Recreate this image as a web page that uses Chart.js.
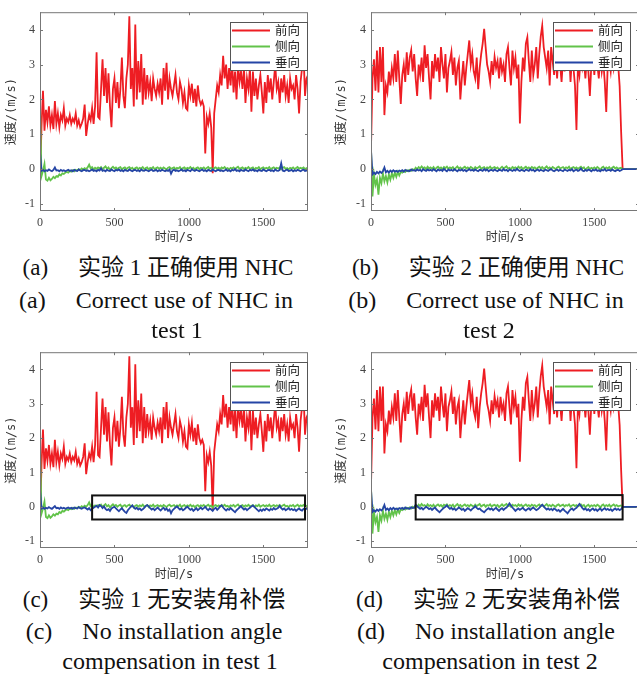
<!DOCTYPE html>
<html>
<head>
<meta charset="utf-8">
<script src="https://cdn.jsdelivr.net/npm/chart.js@4.4.1/dist/chart.umd.min.js"></script>
<style>
  html, body { margin: 0; padding: 0; background: #fff; overflow: hidden; }
  body { width: 637px; height: 675px; position: relative; }
  canvas { position: absolute; }
  .cap { position: absolute; white-space: pre; font-family: 'Liberation Serif', 'Noto Sans CJK SC', serif;
         font-size: 24px; line-height: 24px; color: #111; transform: translateX(-50%); }
  .cap.zh { font-size: 23px; }
  .cap b { font-weight: normal; margin-right: 30px; }
</style>
</head>
<body>
<canvas id="ca" width="318" height="248" style="left:0;top:0"></canvas>
<canvas id="cb" width="310" height="248" style="left:330px;top:0"></canvas>
<canvas id="cc" width="318" height="245" style="left:0;top:340px"></canvas>
<canvas id="cd" width="310" height="245" style="left:330px;top:340px"></canvas>

<div class="cap zh" style="left:158px;top:256px"><b>(a)</b>实验 1 正确使用 NHC</div>
<div class="cap" style="left:156px;top:288px"><b>(a)</b>Correct use of NHC in</div>
<div class="cap" style="left:177px;top:318px">test 1</div>
<div class="cap zh" style="left:488px;top:256px"><b>(b)</b>实验 2 正确使用 NHC</div>
<div class="cap" style="left:486px;top:288px"><b>(b)</b>Correct use of NHC in</div>
<div class="cap" style="left:489px;top:318px">test 2</div>
<div class="cap zh" style="left:154px;top:588px"><b>(c)</b>实验 1 无安装角补偿</div>
<div class="cap" style="left:154px;top:619px"><b>(c)</b>No installation angle</div>
<div class="cap" style="left:170px;top:649px">compensation in test 1</div>
<div class="cap zh" style="left:488px;top:588px"><b>(d)</b>实验 2 无安装角补偿</div>
<div class="cap" style="left:486px;top:619px"><b>(d)</b>No installation angle</div>
<div class="cap" style="left:490px;top:649px">compensation in test 2</div>

<script>
// samples every 10 s, 0 .. 1800 s
const sampleStep = 10;
const xTickVals = [0, 500, 1000, 1500];
const yTickVals = [-1, 0, 1, 2, 3, 4];
const seriesNames = ['前向', '侧向', '垂向'];

// test 1, forward speed
const fwd1 = [
  -0.4, 1.2, 2.25, 1.1, 1.7, 1.35, 1.8, 1.25, 1.55, 1.15,
  1.95, 1.3, 1.6, 1.2, 1.55, 1.4, 1.75, 1.25, 1.45, 1.35,
  1.55, 1.3, 1.45, 1.35, 1.6, 1.25, 1.4, 1.2, 1.3, 1.45,
  1.85, 0.95, 1.3, 1.55, 1.4, 1.75, 1.3, 1.8, 3.35, 1.5,
  1.45, 2.3, 3.15, 2.1, 2.9, 1.9, 2.75, 1.8, 1.2, 2.3,
  2.6, 1.9, 2.5, 1.75, 2.3, 3.2, 2.1, 1.75, 2.6, 3.0,
  4.38, 2.3, 2.9, 1.8, 4.15, 2.0, 3.1, 2.2, 3.3, 1.85,
  2.9, 2.0, 2.7, 2.2, 2.5, 1.95, 2.6, 2.3, 2.1, 2.45,
  2.2, 2.6, 1.85, 2.9, 2.25, 3.05, 2.0, 2.6, 2.3, 2.1,
  2.4, 2.7, 2.2, 2.0, 2.5, 2.3, 1.9, 2.2, 1.75, 1.7,
  2.4, 2.1, 2.45, 1.9, 2.3, 1.8, 2.4, 2.0, 1.85, 1.95,
  1.8, 0.45, 1.5, 1.3, 1.6, 1.2, -0.12, 1.6, 2.0, 2.4,
  2.2, 2.7, 2.4, 3.25, 2.6, 3.0, 2.3, 2.9, 2.4, 3.1,
  2.2, 2.8, 2.0, 3.0, 2.5, 2.8, 2.3, 2.9, 1.9, 2.6,
  2.3, 2.9, 1.65, 2.8, 2.1, 2.6, 2.0, 2.4, 2.7, 2.2,
  1.6, 2.5, 1.9, 2.7, 2.2, 2.6, 2.0, 2.5, 3.0, 2.3,
  2.5, 1.9, 2.6, 2.2, 2.7, 2.1, 2.4, 1.9, 2.6, 2.3,
  2.4, 2.0, 2.7, 2.3, 1.6, 2.5, 2.9, 3.3, 2.1, 2.6, 2.7
];
// test 1, lateral speed
const side1 = [
  1.9, -0.2, -0.05, 0.15, -0.3, -0.33, -0.25, -0.32, -0.28, -0.22,
  -0.26, -0.2, -0.22, -0.15, -0.18, -0.12, -0.14, -0.1, -0.08, -0.1,
  -0.05, -0.07, -0.03, -0.06, -0.02, -0.04, 0.0, -0.03, 0.02, -0.01,
  0.03, 0.0, 0.05, 0.13, 0.02, 0.06, -0.01, 0.04, 0.01, 0.05,
  0.02, 0.06, 0.0, 0.04, 0.08, 0.01, 0.05, -0.02, 0.03, 0.07,
  0.02, 0.05, 0.0, 0.04, 0.06, -0.01, 0.03, 0.05, 0.0, 0.04,
  0.06, 0.01, 0.04, -0.02, 0.03, 0.05, 0.0, 0.04, 0.02, 0.06,
  0.0, 0.03, 0.05, -0.01, 0.04, 0.02, 0.06, 0.0, 0.03, 0.05,
  0.01, 0.04, 0.0, 0.05, 0.02, -0.01, 0.04, 0.06, 0.01, 0.03,
  0.05, 0.0, 0.04, 0.02, 0.06, -0.01, 0.03, 0.05, 0.0, 0.04,
  0.02, 0.06, 0.01, 0.04, -0.01, 0.03, 0.05, 0.0, 0.04, 0.02,
  0.05, 0.0, 0.03, 0.06, 0.01, 0.04, -0.02, 0.03, 0.05, 0.01,
  0.04, 0.0, 0.05, 0.02, 0.06, 0.01, 0.03, -0.01, 0.04, 0.02,
  0.05, 0.0, 0.04, 0.07, 0.01, 0.03, 0.05, 0.0, 0.04, 0.02,
  0.06, 0.01, 0.03, 0.05, -0.01, 0.04, 0.02, 0.06, 0.0, 0.03,
  0.05, 0.01, 0.04, 0.02, 0.06, 0.0, 0.03, 0.05, 0.01, 0.04,
  0.02, 0.05, 0.0, 0.04, 0.06, 0.01, 0.03, -0.01, 0.04, 0.02,
  0.05, 0.0, 0.03, 0.06, 0.01, 0.04, 0.02, 0.05, 0.0, 0.03, 0.04
];
// test 1, vertical speed with NHC
const vert1a = [
  0.5, -0.05, -0.02, -0.06, -0.03, -0.05, -0.01, -0.04, -0.06, -0.02,
  0.05, -0.04, -0.03, -0.06, -0.02, -0.05, -0.03, -0.06, -0.04, -0.02,
  -0.05, -0.03, -0.06, -0.02, -0.04, -0.05, -0.01, -0.04, -0.06, -0.03,
  -0.02, -0.05, -0.03, -0.06, -0.04, -0.01, -0.05, -0.03, -0.06, -0.02,
  -0.04, 0.02, -0.05, -0.03, -0.06, -0.02, -0.04, -0.05, -0.01, -0.04,
  -0.06, -0.02, -0.04, -0.01, -0.05, -0.03, -0.06, -0.02, -0.04, -0.05,
  -0.01, -0.04, -0.06, -0.03, -0.02, -0.05, -0.03, -0.06, -0.01, -0.04,
  -0.05, -0.02, -0.04, -0.06, -0.03, -0.01, -0.05, -0.04, -0.02, -0.06,
  -0.03, -0.05, -0.02, -0.04, -0.06, -0.03, -0.05, -0.01, -0.13, -0.04,
  -0.02, -0.05, -0.03, -0.06, -0.04, -0.01, -0.05, -0.03, -0.06, -0.02,
  -0.04, -0.06, 0.0, -0.03, -0.05, -0.02, -0.04, -0.06, -0.03, -0.01,
  -0.05, -0.03, -0.06, -0.02, -0.04, -0.05, -0.01, -0.04, -0.06, -0.03,
  -0.02, -0.05, -0.03, -0.06, -0.04, -0.01, -0.05, -0.03, -0.06, -0.02,
  -0.04, 0.0, -0.05, -0.03, -0.06, -0.02, -0.04, -0.05, -0.01, -0.04,
  -0.06, -0.02, -0.04, -0.01, -0.05, -0.03, -0.06, -0.02, -0.04, -0.05,
  -0.01, -0.04, -0.06, -0.03, -0.02, -0.05, -0.03, -0.06, -0.01, -0.04,
  -0.05, -0.02, 0.17, -0.04, -0.06, -0.03, -0.01, -0.05, -0.04, -0.02,
  -0.06, -0.03, -0.05, -0.02, -0.04, -0.06, -0.03, -0.01, -0.05, -0.04, -0.03
];
// test 1, vertical speed without installation angle compensation
const vert1c = [
  0.5, -0.05, -0.02, -0.06, -0.03, -0.05, -0.01, -0.04, -0.06, -0.02,
  0.02, -0.04, -0.03, -0.06, -0.02, -0.05, -0.03, -0.06, -0.04, -0.02,
  -0.05, -0.03, -0.06, -0.02, -0.04, -0.05, -0.01, -0.04, -0.06, -0.03,
  -0.02, -0.05, -0.08, -0.04, -0.1, -0.06, -0.03, 0.0, 0.03, -0.02,
  0.05, 0.02, -0.04, 0.01, -0.06, -0.1, -0.07, -0.12, -0.05, -0.02,
  0.0, -0.05, -0.09, -0.13, -0.08, -0.04, -0.1, -0.15, -0.18, -0.1,
  -0.05, 0.0, 0.04, -0.02, -0.06, -0.03, -0.08, -0.05, -0.1, -0.07,
  -0.03, 0.02, 0.05, 0.01, -0.04, -0.08, -0.05, -0.1, -0.06, -0.02,
  -0.07, -0.11, -0.06, -0.03, -0.09, -0.05, -0.12, -0.08, -0.19, -0.1,
  -0.06, -0.02, 0.01, -0.04, -0.08, -0.05, -0.1, -0.07, -0.03, 0.0,
  -0.05, -0.09, -0.06, -0.12, -0.08, -0.04, -0.1, -0.06, -0.02, -0.07,
  -0.04, 0.0, -0.06, -0.1, -0.05, -0.08, -0.12, -0.06, -0.03, -0.09,
  -0.05, 0.02, 0.04, -0.02, -0.07, -0.11, -0.06, -0.09, -0.04, -0.08,
  -0.12, -0.16, -0.1, -0.06, -0.02, 0.02, -0.04, -0.08, -0.05, -0.1,
  -0.06, -0.03, 0.01, 0.04, 0.0, -0.05, -0.09, -0.13, -0.08, -0.12,
  -0.07, -0.1, -0.05, -0.08, -0.11, -0.06, -0.09, -0.04, -0.08, -0.06,
  -0.03, 0.03, -0.04, -0.08, -0.05, -0.1, -0.07, -0.04, -0.09, -0.06,
  -0.1, -0.07, -0.12, -0.08, -0.05, -0.09, -0.11, -0.06, -0.08, -0.05, -0.07
];

// test 2, forward speed
const fwd2 = [
  0.6, 2.6, 3.15, 2.25, 3.4, 2.2, 3.5, 2.5, 3.5, 1.55,
  2.4, 2.2, 2.8, 2.4, 2.9, 2.6, 3.3, 2.5, 3.4, 2.6,
  1.87, 2.7, 3.0, 2.5, 3.35, 2.7, 3.2, 3.41, 2.8, 3.3,
  2.6, 2.1, 3.0, 2.7, 3.2, 2.5, 3.55, 2.9, 3.3, 2.6,
  2.0, 3.1, 2.6, 3.3, 2.8, 3.2, 2.5, 3.5, 3.0, 2.6,
  3.3, 2.2, 2.9, 3.1, 3.36, 2.7, 3.2, 2.4, 2.9, 3.1,
  2.0, 2.6, 3.1, 2.4, 2.9, 3.3, 3.69, 3.0, 3.3, 2.8,
  2.6, 3.2, 2.29, 2.9, 3.3, 3.6, 4.02, 3.5, 3.0, 2.8,
  2.5, 3.1, 2.7, 3.22, 2.9, 3.1, 2.6, 3.2, 2.8, 3.0,
  2.5, 3.3, 3.5, 2.9, 2.4, 3.4, 2.9, 3.2, 2.6, 3.0,
  1.31, 2.5, 3.2, 2.8, 3.6, 3.78, 3.1, 2.5, 3.4, 2.7,
  3.0, 3.5, 2.6, 3.3, 3.8, 4.11, 3.5, 3.2, 2.9, 3.4,
  2.4, 3.5, 3.1, 2.7, 3.3, 2.6, 3.4, 3.0, 2.5, 3.2,
  2.8, 3.3, 2.9, 3.4, 2.5, 3.2, 2.9, 2.4, 1.12, 3.0,
  2.7, 3.3, 2.9, 3.1, 2.6, 3.2, 2.8, 2.1, 3.0, 3.3,
  2.7, 3.4, 3.0, 2.6, 3.3, 2.8, 3.1, 2.5, 1.64, 3.0,
  3.1, 2.8, 3.3, 2.9, 3.2, 3.4, 3.0, 2.38, 1.07, 0,
  0, 0, 0, 0, 0, 0, 0, 0, 0, 0, -0.05
];
// test 2, lateral speed
const side2 = [
  0.6, -0.78, -0.15, -0.45, -0.3, -0.73, -0.25, -0.4, -0.12, -0.35,
  -0.2, -0.38, -0.15, -0.3, -0.12, -0.25, -0.1, -0.22, -0.08, -0.18,
  -0.08, -0.1, -0.05, -0.08, -0.03, -0.06, -0.02, -0.05, 0.0, -0.03,
  0.04, 0.0, 0.06, 0.02, 0.08, 0.03, 0.05, 0.0, 0.07, 0.02,
  0.05, 0.01, 0.06, -0.01, 0.04, 0.07, 0.02, 0.05, 0.0, 0.06,
  0.03, 0.07, 0.01, 0.05, 0.02, 0.06, -0.01, 0.04, 0.08, 0.02,
  0.05, 0.0, 0.04, 0.07, 0.02, 0.05, 0.01, 0.06, 0.03, 0.0,
  0.06, 0.02, 0.05, 0.08, 0.01, 0.04, 0.06, 0.0, 0.05, 0.03,
  0.07, 0.01, 0.04, 0.06, 0.02, 0.05, -0.01, 0.03, 0.07, 0.02,
  0.05, 0.08, 0.02, 0.04, 0.0, 0.06, 0.03, 0.05, 0.01, 0.07,
  0.03, 0.06, 0.0, 0.04, 0.07, 0.02, 0.05, 0.01, 0.06, 0.03,
  0.05, 0.0, 0.04, 0.07, 0.02, 0.06, 0.01, 0.04, 0.08, 0.02,
  0.05, 0.01, 0.06, 0.03, 0.0, 0.05, 0.07, 0.02, 0.04, 0.06,
  0.01, 0.05, 0.03, 0.07, 0.0, 0.04, 0.06, 0.02, 0.05, 0.01,
  0.04, 0.07, 0.02, 0.05, -0.02, 0.03, 0.06, 0.0, 0.04, 0.02,
  0.05, 0.01, 0.06, 0.03, -0.03, 0.04, 0.07, 0.01, 0.05, 0.02,
  0.06, 0.0, 0.04, 0.07, 0.02, 0.05, 0.01, 0.03, 0.04, 0.0,
  0, 0, 0, 0, 0, 0, 0, 0, 0, 0, 0
];
// test 2, vertical speed with NHC
const vert2b = [
  0.55, -0.15, -0.1, -0.14, -0.08, -0.12, -0.07, -0.11, -0.06, 0.05,
  -0.09, -0.05, -0.1, -0.04, -0.08, -0.03, -0.07, -0.05, -0.08, -0.04,
  -0.06, -0.03, -0.07, -0.02, -0.05, -0.04, -0.06, -0.01, -0.04, -0.03,
  -0.05, -0.01, -0.04, -0.02, -0.06, 0.0, -0.03, -0.05, -0.01, -0.04,
  -0.02, -0.05, 0.0, -0.03, -0.06, -0.01, -0.04, -0.02, -0.05, 0.01,
  -0.03, -0.06, -0.01, -0.04, -0.02, -0.05, 0.0, -0.03, -0.06, -0.02,
  -0.04, -0.01, -0.05, -0.02, -0.06, -0.03, 0.0, -0.04, -0.02, -0.05,
  -0.01, -0.04, -0.06, -0.02, -0.03, -0.05, 0.0, -0.04, -0.01, -0.06,
  -0.03, -0.02, -0.05, -0.01, -0.04, -0.06, -0.02, -0.03, -0.05, 0.0,
  -0.04, -0.02, -0.06, -0.01, -0.03, -0.05, -0.02, -0.04, 0.01, -0.03,
  -0.05, -0.02, -0.04, -0.06, -0.01, -0.03, -0.05, 0.0, -0.04, -0.02,
  -0.06, -0.03, -0.01, -0.05, -0.02, -0.04, -0.06, -0.01, -0.03, -0.05,
  -0.02, 0.0, -0.04, -0.06, -0.03, -0.01, -0.05, -0.02, -0.04, -0.06,
  -0.01, -0.03, -0.05, -0.02, -0.04, 0.0, -0.06, -0.03, -0.01, -0.05,
  -0.03, 0.02, -0.04, -0.06, -0.02, -0.05, -0.01, -0.03, -0.06, -0.02,
  -0.04, -0.01, -0.05, -0.03, -0.06, -0.02, -0.04, 0.0, -0.05, -0.03,
  -0.02, -0.05, -0.01, -0.04, -0.06, -0.03, -0.02, -0.05, -0.03, 0.0,
  0, 0, 0, 0, 0, 0, 0, 0, 0, 0, 0
];
// test 2, vertical speed without installation angle compensation
const vert2d = [
  0.5, -0.15, -0.1, -0.14, -0.08, -0.12, -0.07, -0.11, -0.06, 0.05,
  -0.09, -0.05, -0.1, -0.04, -0.08, -0.03, -0.07, -0.05, -0.08, -0.04,
  -0.06, -0.03, -0.07, -0.02, -0.05, -0.04, -0.06, -0.01, -0.04, -0.03,
  0.06, 0.02, -0.02, -0.06, -0.03, -0.08, -0.04, 0.0, -0.03, -0.07,
  -0.04, -0.09, -0.05, -0.02, -0.08, -0.12, -0.16, -0.11, -0.07, -0.03,
  0.0, 0.04, -0.02, -0.06, -0.03, -0.08, -0.05, -0.1, -0.06, -0.02,
  -0.05, -0.09, -0.06, -0.12, -0.08, -0.04, -0.07, -0.11, -0.06, -0.03,
  0.02, -0.03, -0.07, -0.05, -0.1, -0.13, -0.16, -0.11, -0.07, -0.04,
  -0.08, -0.05, -0.1, -0.06, -0.03, -0.08, -0.12, -0.07, -0.04, -0.09,
  -0.05, -0.02, 0.03, 0.1, 0.04, -0.02, -0.07, -0.12, -0.08, -0.05,
  -0.09, -0.06, -0.03, -0.08, -0.11, -0.07, -0.04, -0.09, -0.05, -0.02,
  -0.06, -0.1, -0.07, -0.03, 0.02, 0.06, 0.01, -0.04, -0.08, -0.05,
  -0.09, -0.06, -0.1, -0.05, -0.08, -0.12, -0.09, -0.14, -0.1, -0.06,
  -0.11, -0.15, -0.19, -0.13, -0.08, -0.05, -0.1, -0.06, -0.03, 0.03,
  0.08, 0.02, -0.04, -0.08, -0.05, -0.1, -0.07, -0.12, -0.08, -0.05,
  -0.1, -0.07, -0.12, -0.08, -0.05, -0.11, -0.07, -0.04, -0.09, -0.06,
  -0.1, -0.07, -0.12, -0.08, -0.05, -0.09, -0.06, -0.1, -0.07, 0.0,
  0, 0, 0, 0, 0, 0, 0, 0, 0, 0, 0
];

// highlighted regions [x0, x1, y0, y1]
const boxC = [350, 1780, -0.37, 0.33];
const boxD = [300, 1690, -0.37, 0.34];

const colors = ['#ee1d23', '#62c34a', '#2545a5'];
const tickFont = { family: "'Liberation Serif', serif", size: 12 };
const titleFont = { family: "'DejaVu Sans Mono', 'Noto Sans CJK SC', monospace", size: 12 };

const framePlugin = {
  id: 'frame',
  afterDatasetsDraw(chart, args, o) {
    const { ctx, chartArea: a, scales: { x, y } } = chart;
    ctx.save();
    if (o.box) {
      const [x0, x1, y0, y1] = o.box;
      ctx.strokeStyle = '#111';
      ctx.lineWidth = 2;
      const l = x.getPixelForValue(x0), r = x.getPixelForValue(x1);
      const t = y.getPixelForValue(y1), b = y.getPixelForValue(y0);
      ctx.strokeRect(l, t, r - l, b - t);
    }
    ctx.strokeStyle = '#777';
    ctx.lineWidth = 1;
    ctx.strokeRect(a.left + 0.5, a.top + 0.5, a.width - 1, a.height - 1);
    ctx.beginPath();
    xTickVals.forEach(v => {
      const p = Math.round(x.getPixelForValue(v)) + 0.5;
      ctx.moveTo(p, a.bottom); ctx.lineTo(p, a.bottom - 3);
      ctx.moveTo(p, a.top); ctx.lineTo(p, a.top + 3);
    });
    yTickVals.forEach(v => {
      const p = Math.round(y.getPixelForValue(v)) + 0.5;
      ctx.moveTo(a.left, p); ctx.lineTo(a.left + 3, p);
      ctx.moveTo(a.right, p); ctx.lineTo(a.right - 3, p);
    });
    ctx.stroke();

    // legend box
    const w = 77, h = 48;
    const lx = Math.round(a.right - o.legendRight - w), ly = Math.round(a.top + 10);
    ctx.fillStyle = '#fff';
    ctx.fillRect(lx, ly, w, h);
    ctx.strokeStyle = '#555';
    ctx.strokeRect(lx + 0.5, ly + 0.5, w, h);
    ctx.font = "12.5px 'Noto Sans CJK SC', sans-serif";
    ctx.textBaseline = 'middle';
    chart.data.datasets.forEach((ds, i) => {
      const cy = ly + 8.5 + i * 16;
      ctx.strokeStyle = ds.borderColor;
      ctx.lineWidth = 2;
      ctx.beginPath();
      ctx.moveTo(lx + 2, cy); ctx.lineTo(lx + 40, cy);
      ctx.stroke();
      ctx.fillStyle = '#222';
      ctx.fillText(ds.label, lx + 45, cy);
    });
    ctx.restore();
  }
};

function drawPanel(id, values, geo) {
  new Chart(document.getElementById(id), {
    type: 'line',
    data: {
      datasets: values.map((vals, i) => ({
        label: seriesNames[i],
        data: vals.map((v, k) => ({ x: k * sampleStep, y: v })),
        borderColor: colors[i],
        borderWidth: 1.8,
        pointRadius: 0,
        tension: 0,
        fill: false,
        order: 3 - i
      }))
    },
    options: {
      responsive: false,
      animation: false,
      devicePixelRatio: 1,
      layout: { padding: { top: geo.padTop, right: geo.padRight, left: 0, bottom: 0 } },
      plugins: {
        legend: { display: false },
        tooltip: { enabled: false },
        frame: { box: geo.box, legendRight: geo.legendRight }
      },
      scales: {
        x: {
          type: 'linear', min: 0, max: 1800,
          grid: { display: false, drawTicks: false }, border: { display: false },
          afterBuildTicks: s => { s.ticks = xTickVals.map(v => ({ value: v })); },
          afterFit: s => { s.height = geo.xAxisH; },
          ticks: { font: tickFont, color: '#444', padding: 5, maxRotation: 0, callback: v => String(v) },
          title: { display: true, text: '时间/s', font: titleFont, color: '#333', padding: { top: 0, bottom: 3 } }
        },
        y: {
          type: 'linear', min: -1.2, max: 4.5,
          grid: { display: false, drawTicks: false }, border: { display: false },
          afterBuildTicks: s => { s.ticks = yTickVals.map(v => ({ value: v })); },
          afterFit: s => { s.width = geo.yAxisW; },
          ticks: { font: tickFont, color: '#444', padding: 5, callback: v => String(v) },
          title: { display: true, text: '速度/(m/s)', font: titleFont, color: '#333', padding: { top: 5, bottom: 0 } }
        }
      }
    },
    plugins: [framePlugin]
  });
}

drawPanel('ca', [fwd1, side1, vert1a], { padTop: 7, padRight: 10, xAxisH: 37, yAxisW: 40, legendRight: 1 });
drawPanel('cb', [fwd2, side2, vert2b], { padTop: 7, padRight: 1, xAxisH: 37, yAxisW: 41, legendRight: 9 });
drawPanel('cc', [fwd1, side1, vert1c], { padTop: 7, padRight: 10, xAxisH: 37, yAxisW: 40, legendRight: 1, box: boxC });
drawPanel('cd', [fwd2, side2, vert2d], { padTop: 7, padRight: 1, xAxisH: 37, yAxisW: 41, legendRight: 9, box: boxD });
</script>
</body>
</html>
